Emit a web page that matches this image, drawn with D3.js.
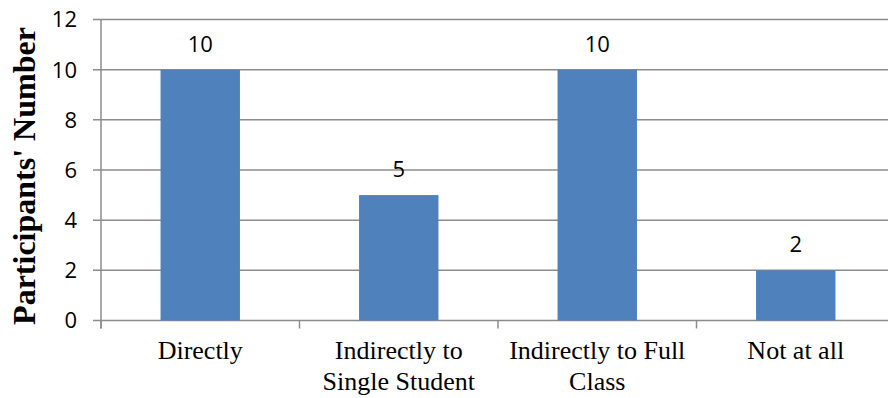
<!DOCTYPE html>
<html>
<head>
<meta charset="utf-8">
<script src="https://cdn.jsdelivr.net/npm/d3@7"></script>
<style>
  html, body { margin: 0; padding: 0; background: #fff; overflow: hidden; }
  svg { display: block; }
</style>
</head>
<body>
<div id="chart"></div>
<script>
// Data
const categories = [["Directly"], ["Indirectly to", "Single Student"], ["Indirectly to Full", "Class"], ["Not at all"]];
const values = [10, 5, 10, 2];
const yTicks = [0, 2, 4, 6, 8, 10, 12];
const yTitle = "Participants' Number";

const W = 888, H = 398;
const margin = { left: 101, right: -7, top: 19.5, bottom: 77.5 };

const svg = d3.select("#chart").append("svg")
  .attr("width", W).attr("height", H);

const x = d3.scaleBand()
  .domain(d3.range(categories.length))
  .range([margin.left, W - margin.right])
  .paddingInner(0.6)
  .paddingOuter(0.3);

const y = d3.scaleLinear()
  .domain([0, 12])
  .range([H - margin.bottom, margin.top]);

const grid = "#8c8c8c";
const numFont = "'Open Sans', sans-serif";
const serif = "'Liberation Serif', 'Times New Roman', serif";

// Horizontal gridlines with outward ticks
svg.append("g")
  .selectAll("line")
  .data(yTicks)
  .join("line")
  .attr("x1", margin.left - 8)
  .attr("x2", W)
  .attr("y1", d => y(d))
  .attr("y2", d => y(d))
  .attr("stroke", grid)
  .attr("stroke-width", 1.5);

// Y axis labels
svg.append("g")
  .selectAll("text")
  .data(yTicks)
  .join("text")
  .attr("x", margin.left - 24)
  .attr("y", d => y(d))
  .attr("dy", "0.36em")
  .attr("text-anchor", "end")
  .style("font-family", numFont)
  .style("font-size", "22px")
  .attr("fill", "#000")
  .text(d => d);

// Bars
svg.append("g")
  .selectAll("rect")
  .data(values)
  .join("rect")
  .attr("x", (d, i) => x(i))
  .attr("y", d => y(d))
  .attr("width", x.bandwidth())
  .attr("height", d => y(0) - y(d))
  .attr("fill", "#4f81bd");

// Value labels
svg.append("g")
  .selectAll("text")
  .data(values)
  .join("text")
  .attr("x", (d, i) => x(i) + x.bandwidth() / 2)
  .attr("y", d => y(d) - 18)
  .attr("text-anchor", "middle")
  .style("font-family", numFont)
  .style("font-size", "22px")
  .attr("fill", "#000")
  .text(d => d);

// Y axis line
svg.append("line")
  .attr("x1", margin.left).attr("x2", margin.left)
  .attr("y1", y(12)).attr("y2", y(0) + 8)
  .attr("stroke", grid).attr("stroke-width", 1.5);

// Category separators below the baseline
const step = x.step();
svg.append("g")
  .selectAll("line")
  .data(d3.range(categories.length + 1))
  .join("line")
  .attr("x1", i => margin.left + i * step)
  .attr("x2", i => margin.left + i * step)
  .attr("y1", y(0))
  .attr("y2", y(0) + 8)
  .attr("stroke", grid).attr("stroke-width", 1.5);

// Category labels
const cat = svg.append("g")
  .selectAll("text")
  .data(categories)
  .join("text")
  .attr("x", (d, i) => x(i) + x.bandwidth() / 2)
  .attr("y", 359)
  .attr("text-anchor", "middle")
  .attr("font-family", serif)
  .attr("font-size", 26)
  .attr("fill", "#000");
cat.selectAll("tspan")
  .data(d => d)
  .join("tspan")
  .attr("x", function() { return this.parentNode.getAttribute("x"); })
  .attr("dy", (d, j) => j === 0 ? 0 : 31)
  .text(d => d);

// Y axis title
svg.append("text")
  .attr("transform", `translate(35, ${(y(0) + y(12)) / 2 + 6}) rotate(-90)`)
  .attr("text-anchor", "middle")
  .attr("font-family", serif)
  .attr("font-weight", "bold")
  .attr("font-size", 32)
  .attr("fill", "#000")
  .text(yTitle);
</script>
</body>
</html>
